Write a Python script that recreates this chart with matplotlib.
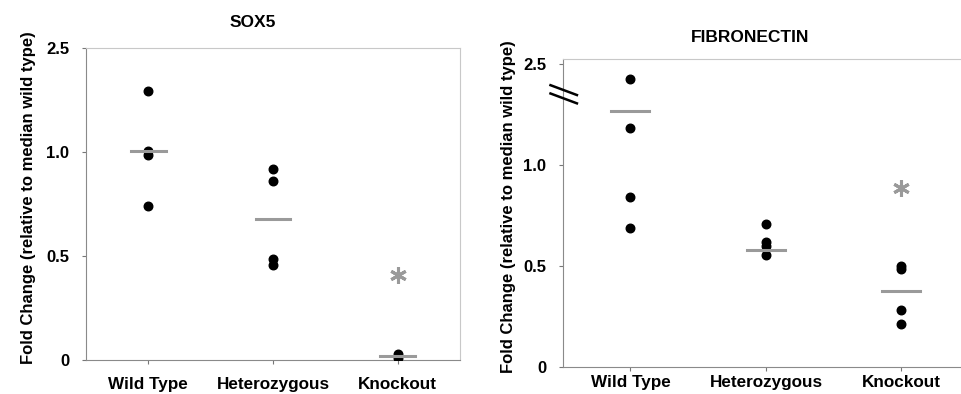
import numpy as np
import matplotlib
matplotlib.use("Agg")
from matplotlib import pyplot as plt

plt.rcParams['font.family'] = ['Liberation Sans', 'DejaVu Sans']
plt.rcParams['font.weight'] = 'bold'

groups = ['Wild Type', 'Heterozygous', 'Knockout']
yticks = [0, 0.5, 1.0, 2.5]
ytick_labels = ['0', '0.5', '1.0', '2.5']

# SOX5
sox5_wt = [1.88, 1.02, 0.985, 0.742]
sox5_het = [0.918, 0.859, 0.484, 0.455]
sox5_ko = [0.027, 0.01]
sox5_median = [1.01, 0.678, 0.02]
sox5_star = 0.41

# FIBRONECTIN
fn_wt = [2.28, 1.55, 0.842, 0.688]
fn_het = [0.711, 0.618, 0.601, 0.557]
fn_ko = [0.503, 0.487, 0.282, 0.213]
fn_median = [1.81, 0.582, 0.377]
fn_star = 0.885


# broken axis: upper part (above 1.0) compressed 3x
def fwd(y):
    y = np.asarray(y, dtype=float)
    return np.where(y <= 1, y, 1 + (y - 1) / 3.0)


def inv(t):
    t = np.asarray(t, dtype=float)
    return np.where(t <= 1, t, 1 + (t - 1) * 3.0)


def panel(ax, series, medians, star, ytop, xpad):
    ax.set_yscale('function', functions=(fwd, inv))
    ax.set_xlim(-0.5, 2.5)
    ax.set_ylim(0, ytop)
    for i, vals in enumerate(series):
        ax.scatter([i] * len(vals), vals, s=38, color='black', zorder=3)
        ax.plot([i - 0.14, i + 0.14], [medians[i], medians[i]],
                color='#9a9a9a', lw=2.2, zorder=4)
    ax.plot([2], [star], marker=(6, 2, 0), markersize=12, mew=2.2,
            color='#9a9a9a', linestyle='none')
    ax.set_yticks(yticks)
    ax.set_yticklabels(ytick_labels, fontsize=12, fontweight='bold')
    ax.minorticks_off()
    ax.set_xticks([0, 1, 2])
    ax.set_xticklabels(groups, fontsize=12.3, fontweight='bold')
    ax.tick_params(axis='both', length=3, width=0.8, color='#777777')
    ax.tick_params(axis='y', pad=9)
    ax.tick_params(axis='x', pad=xpad)
    for side in ['left', 'bottom']:
        ax.spines[side].set_color('#8a8a8a')
    for side in ['top', 'right']:
        ax.spines[side].set_color('#c8c8c8')
    ax.set_ylabel('Fold Change (relative to median wild type)',
                  fontsize=12, fontweight='bold')


fig = plt.figure(figsize=(9.61, 3.94), dpi=100)

ax1 = fig.add_axes([86 / 961, 34 / 394, 374 / 961, 312 / 394])
panel(ax1, [sox5_wt, sox5_het, sox5_ko], sox5_median, sox5_star, 2.5, 9)
ax1.yaxis.set_label_coords(-0.135, 0.52)
ax1.set_title('SOX5', fontsize=12.5, fontweight='bold', pad=15, x=0.447)

ax2 = fig.add_axes([562.7 / 961, 27 / 394, 406.5 / 961, 308 / 394])
panel(ax2, [fn_wt, fn_het, fn_ko], fn_median, fn_star, 2.58, 3)
ax2.spines['right'].set_visible(False)
ax2.yaxis.set_label_coords(-0.115, 0.52)
ax2.set_title('FIBRONECTIN', fontsize=12.5, fontweight='bold', pad=12,
              x=0.46)

# break marks on the FIBRONECTIN y axis
for dy in (0.0, -0.027):
    ax2.plot([-0.03, 0.035], [0.915 + dy, 0.883 + dy], transform=ax2.transAxes,
             color='black', lw=1.8, clip_on=False, zorder=5)

fig.savefig('out.png', dpi=100)
